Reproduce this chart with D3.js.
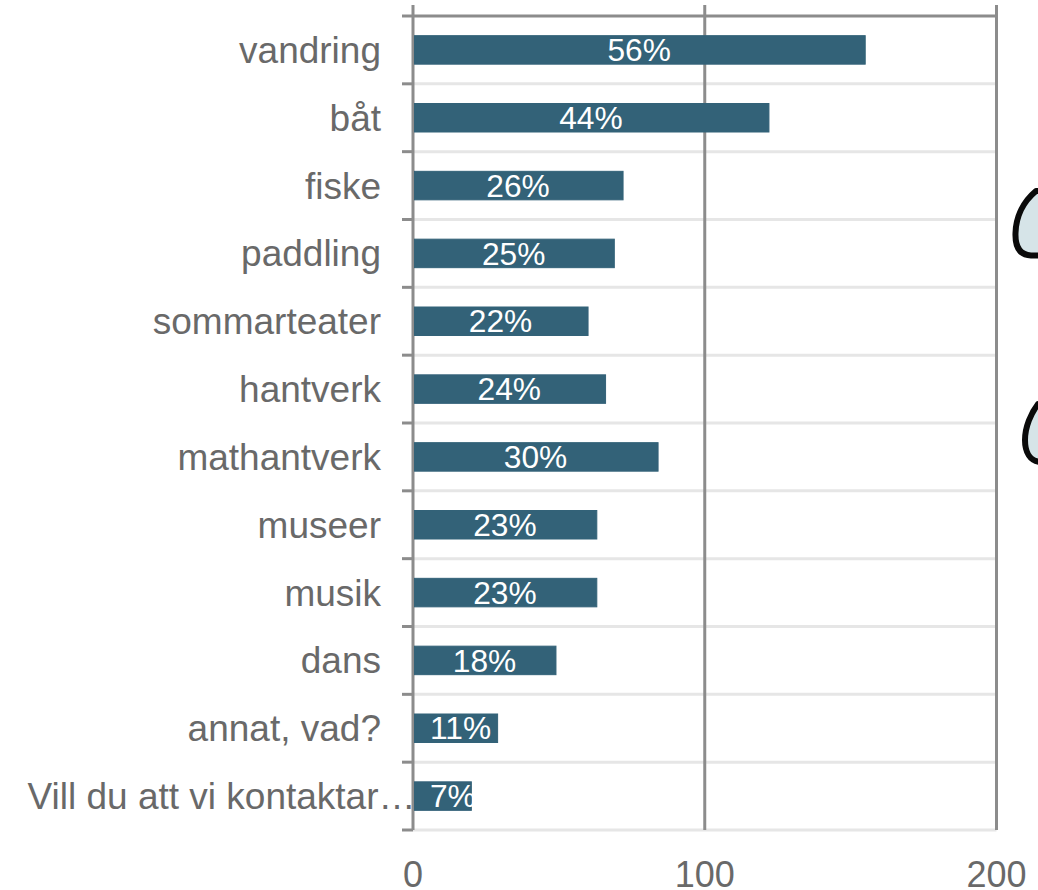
<!DOCTYPE html>
<html><head><meta charset="utf-8">
<script src="https://cdn.jsdelivr.net/npm/d3@7"></script>
<style>html,body{margin:0;padding:0;background:#fff;overflow:hidden}svg{display:block}text{font-family:"Liberation Sans",Arial,sans-serif}</style>
</head><body><svg id="c" width="1038" height="890"></svg>
<script>
const categories=["vandring","båt","fiske","paddling","sommarteater","hantverk","mathantverk","museer","musik","dans","annat, vad?","Vill du att vi kontaktar…"];
const counts=[155,122,72,69,60,66,84,63,63,49,29,20];
const percentLabels=["56%","44%","26%","25%","22%","24%","30%","23%","23%","18%","11%","7%"];
const xTicks=[0,100,200];
const barColor="#336278",gridDark="#8c8c8c",gridLight="#e6e6e6",textColor="#696969";

const svg=d3.select("#c");
const x=d3.scaleLinear().domain([0,200]).range([413,996.5]);
const y=d3.scaleBand().domain(categories).range([16,830]).paddingInner(0).paddingOuter(0);
const barH=28.5;

// decorative blobs cut by the right edge
const blobs=["M1036,191 C1024,201 1016,216 1015.5,233 C1015,247 1020,255 1031,255.5 L1045,255.5 L1045,191 Z",
"M1038,404 C1031,413 1025,427 1025,440 C1025,452 1030,461 1040,462 L1045,462 L1045,404 Z"];
svg.selectAll("path.blob").data(blobs).join("path").attr("class","blob").attr("d",d=>d)
  .attr("fill","#d6e4e8").attr("stroke","#0a0a0a").attr("stroke-width",6).attr("stroke-linejoin","round");

// horizontal grid + ticks
const edges=categories.map(c=>y(c)).concat([y.range()[1]]);
svg.selectAll("line.h").data(edges).join("line").attr("class","h")
  .attr("x1",413).attr("x2",x(200)).attr("y1",d=>d).attr("y2",d=>d)
  .attr("stroke",(d,i)=>i===0?gridDark:gridLight).attr("stroke-width",3);
svg.selectAll("line.t").data(edges).join("line").attr("class","t")
  .attr("x1",402).attr("x2",413).attr("y1",d=>d).attr("y2",d=>d)
  .attr("stroke",gridDark).attr("stroke-width",3);
// vertical grid
svg.selectAll("line.v").data(xTicks).join("line").attr("class","v")
  .attr("x1",d=>x(d)).attr("x2",d=>x(d)).attr("y1",5).attr("y2",830)
  .attr("stroke",gridDark).attr("stroke-width",3);

// category labels (a truncated label runs on to the axis, as in the source)
svg.selectAll("text.cat").data(categories).join("text").attr("class","cat")
  .attr("x",d=>d.endsWith("…")?415.5:381).attr("y",d=>y(d)+y.bandwidth()/2).attr("dy","0.35em")
  .attr("text-anchor","end").attr("font-size",37).attr("fill",textColor).text(d=>d);

// x tick labels
svg.selectAll("text.xt").data(xTicks).join("text").attr("class","xt")
  .attr("x",d=>x(d)).attr("y",887).attr("text-anchor","middle")
  .attr("font-size",36).attr("fill",textColor).text(d=>d);

// bars
svg.selectAll("rect.bar").data(counts).join("rect").attr("class","bar")
  .attr("x",x(0)+1.5).attr("width",d=>x(d)-x(0)-1.5)
  .attr("y",(d,i)=>y(categories[i])+y.bandwidth()/2-barH/2).attr("height",barH)
  .attr("fill",barColor).attr("stroke",barColor).attr("stroke-width",1);

// value labels, kept clear of the axis on the short bars
svg.selectAll("text.val").data(percentLabels).join("text").attr("class","val")
  .attr("y",(d,i)=>y(categories[i])+y.bandwidth()/2).attr("dy","0.35em")
  .attr("font-size",31.7).attr("fill","#fff").text(d=>d)
  .attr("x",function(d,i){const w=this.getComputedTextLength();
    return Math.max((x(0)+x(counts[i]))/2-w/2,430);});
</script></body></html>
